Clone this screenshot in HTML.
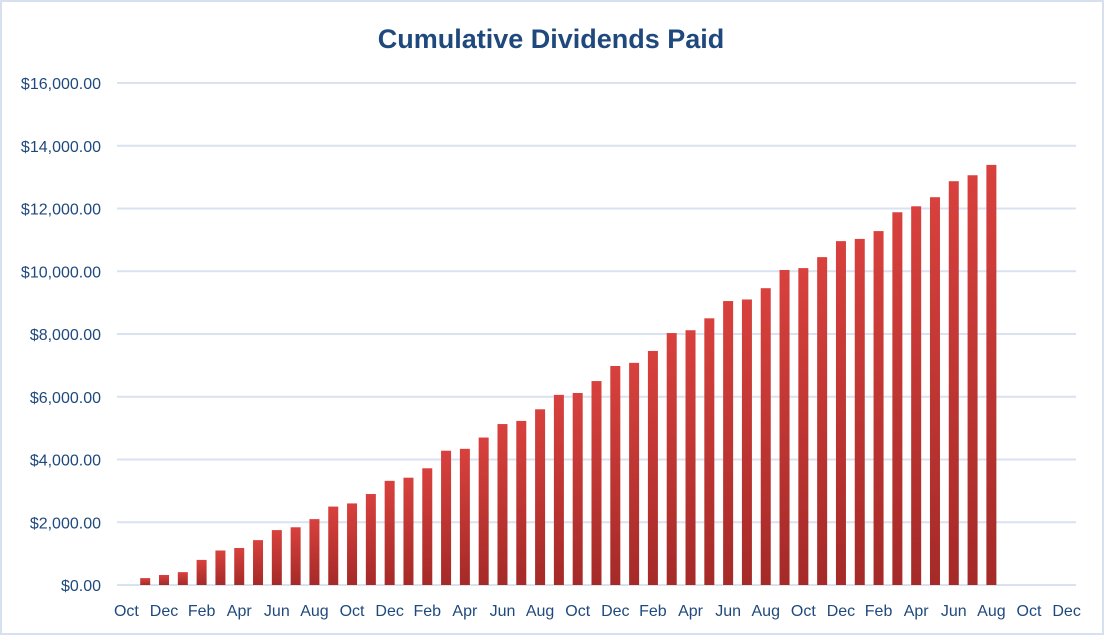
<!DOCTYPE html>
<html><head><meta charset="utf-8"><style>
body{margin:0;background:#fff}
svg{display:block;font-family:"Liberation Sans",sans-serif}
</style></head><body>
<svg id="chart" width="1104" height="635" viewBox="0 0 1104 635">
<defs>
<linearGradient id="barGrad" x1="0" y1="0" x2="0" y2="1">
<stop offset="0" stop-color="#d8413d"/><stop offset="1" stop-color="#a52a28"/>
</linearGradient>
</defs>
<rect x="1" y="1" width="1102" height="633" fill="#fff" stroke="#d6e0ee" stroke-width="2"/>
<text x="551" y="48" text-anchor="middle" font-size="27" font-weight="bold" fill="#1f497d">Cumulative Dividends Paid</text>
<g id="grid"></g><g id="bars"></g><g id="ylabels"></g><g id="xlabels"></g>
</svg>
<script>
const months=["Oct","Nov","Dec","Jan","Feb","Mar","Apr","May","Jun","Jul","Aug","Sep"];
const categories=[];for(let i=0;i<51;i++)categories.push(months[i%12]);
const values=[0,220,320,410,800,1100,1180,1430,1750,1840,2100,2500,2600,2900,3320,3420,3720,4280,4340,4700,5130,5230,5600,6060,6120,6500,6980,7080,7460,8030,8120,8500,9050,9100,9460,10040,10100,10450,10960,11030,11280,11880,12070,12360,12870,13060,13390,null,null,null,null];
const yTicks=[0,2000,4000,6000,8000,10000,12000,14000,16000];
const yTickLabels=["$0.00","$2,000.00","$4,000.00","$6,000.00","$8,000.00","$10,000.00","$12,000.00","$14,000.00","$16,000.00"];
const NS="http://www.w3.org/2000/svg";
const x0=117,x1=1076,y0=585,y1=83,yMax=16000;
const bw=(x1-x0)/categories.length;
const y=v=>y0-(v/yMax)*(y0-y1);
const xc=i=>x0+bw*(i+0.5);
const g=document.getElementById('grid'),b=document.getElementById('bars'),yl=document.getElementById('ylabels'),xl=document.getElementById('xlabels');
yTicks.forEach((t,i)=>{
 const l=document.createElementNS(NS,'line');
 
 
 l.setAttribute('x1',x0);l.setAttribute('x2',x1);l.setAttribute('y1',y(t));l.setAttribute('y2',y(t));
 l.setAttribute('stroke','#d9e2f0');l.setAttribute('stroke-width','2');g.appendChild(l);
 const tx=document.createElementNS(NS,'text');
 
 
 tx.setAttribute('x',101);tx.setAttribute('y',y(t)+6);tx.setAttribute('text-anchor','end');
 tx.setAttribute('font-size','16');tx.setAttribute('fill','#1f497d');tx.textContent=yTickLabels[i];yl.appendChild(tx);
});
values.forEach((v,i)=>{
 if(v!==null&&v>0){
  const r=document.createElementNS(NS,'rect');
  
  
  r.setAttribute('x',xc(i)-5);r.setAttribute('width',10);r.setAttribute('y',y(v));r.setAttribute('height',y0-y(v));
  r.setAttribute('fill','url(#barGrad)');b.appendChild(r);
 }
 if(i%2===0){
  const tx=document.createElementNS(NS,'text');
  
  
  tx.setAttribute('x',xc(i));tx.setAttribute('y',616);tx.setAttribute('text-anchor','middle');
  tx.setAttribute('font-size','16');tx.setAttribute('fill','#1f497d');tx.textContent=categories[i];xl.appendChild(tx);
 }
});
</script>
</body></html>
